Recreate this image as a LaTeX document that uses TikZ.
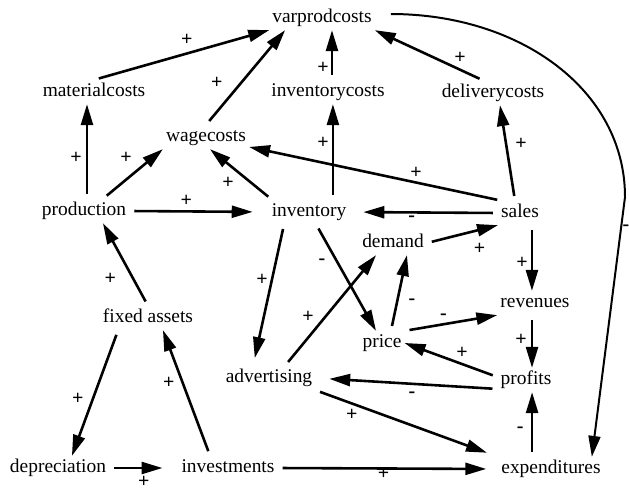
\documentclass[tikz,border=0pt]{standalone}
\usepackage{fontspec}
\setmainfont{Liberation Serif}
\usetikzlibrary{arrows.meta}

\begin{document}
\begin{tikzpicture}[x=1bp,y=-1bp,
        var/.style={inner sep=3pt, text height=14pt, text depth=4pt,
                    font=\fontsize{19.5}{22}\selectfont},
        link/.style={line width=2.6pt, shorten <=5pt,
                     -{Triangle[length=21pt,width=12pt]}},
        sign/.style={inner sep=0pt, font=\fontsize{20}{20}\selectfont\bfseries}]
                \useasboundingbox (0,0) rectangle (629,491);

                \node [var] (varprodcosts) at (322,18) {varprodcosts};
                \node [var] (materialcosts) at (94,92) {materialcosts};
                \node [var] (inventorycosts) at (328,92) {inventorycosts};
                \node [var] (deliverycosts) at (493,93) {deliverycosts};
                \node [var] (wagecosts) at (206,137) {wagecosts};
                \node [var] (production) at (84,211) {production};
                \node [var] (inventory) at (309,212) {inventory};
                \node [var] (sales) at (520,213) {sales};
                \node [var] (demand) at (393,243) {demand};
                \node [var] (revenues) at (535,303) {revenues};
                \node [var] (fixedassets) at (148,318) {fixed assets};
                \node [var] (price) at (382,343) {price};
                \node [var] (advertising) at (269,378) {advertising};
                \node [var] (profits) at (526,380) {profits};
                \node [var] (depreciation) at (58,468) {depreciation};
                \node [var] (investments) at (228,468) {investments};
                \node [var] (expenditures) at (551,469) {expenditures};
                \coordinate (bend) at (625,197);

                \draw[link] (materialcosts.north) -- node[sign, pos=.53, yshift=14] {+} (varprodcosts.south west);
                \draw[link] (wagecosts.north) -- node[sign, pos=.44, xshift=-24] {+} ([xshift=-37]varprodcosts.south);
                \draw[link] ([xshift=4]inventorycosts.north) -- node[sign, pos=.25, xshift=-9] {+}
                            ([xshift=4]inventorycosts.north |- varprodcosts.south);
                \draw[link] ([xshift=-9]deliverycosts.north) -- node[sign, pos=.22, yshift=12] {+} (varprodcosts.south east);
                \draw[link, line width=2pt] ([xshift=11,yshift=4]varprodcosts.east)
                            .. controls (520,14) and (625,90) .. (bend)
                            -- node[sign, pos=.12, xshift=5] {-} ([xshift=41]expenditures.north);

                \draw[link] ([xshift=3]production.north) -- node[sign, pos=.43, xshift=-11] {+}
                            ([xshift=3]production.north |- materialcosts.south);
                \draw[link] ([xshift=19]production.north) -- node[sign, pos=.6, xshift=-13, yshift=11] {+} (wagecosts.south west);
                \draw[link, shorten >=16pt] (production.east) -- node[sign, pos=.41, yshift=11] {+} (inventory.west);
                \draw[link] ([xshift=-37]inventory.north) -- node[sign, pos=.5, xshift=-13, yshift=-8] {+} ([xshift=4]wagecosts.south);
                \draw[link] ([xshift=24]inventory.north) -- node[sign, pos=.6, xshift=-10] {+}
                            ([xshift=24]inventory.north |- inventorycosts.south);

                \draw[link] ([xshift=-18]sales.north) -- node[sign, pos=.34, yshift=10] {+} ([yshift=-10]wagecosts.east);
                \draw[link] ([xshift=-5]sales.north) -- node[sign, pos=.6, xshift=15] {+} ([xshift=7]deliverycosts.south);
                \draw[link, shorten >=14pt] (sales.west) -- node[sign, pos=.58, yshift=-6] {-} (inventory.east);
                \draw[link] (demand.east) -- node[sign, pos=.7, xshift=3, yshift=-18] {+} (sales.south west);
                \draw[link] ([xshift=12]sales.south) -- node[sign, pos=.58, xshift=-10] {+}
                            ([xshift=12]sales.south |- revenues.north);

                \draw[link, shorten >=8pt] ([xshift=-25]inventory.south) -- node[sign, pos=.39, xshift=-10] {+} ([xshift=-16]advertising.north);
                \draw[link] ([xshift=7]inventory.south) -- node[sign, pos=.35, xshift=-15] {-} ([xshift=-6]price.north);
                \draw[link] ([xshift=16]advertising.north) -- node[sign, pos=.44, xshift=-17] {+} ([xshift=-17]demand.south);
                \draw[link] ([xshift=9]price.north) -- node[sign, pos=.38, xshift=15] {-} ([xshift=14]demand.south);
                \draw[link] (price.north east) -- node[sign, pos=.42, yshift=8] {-} (revenues.south west);
                \draw[link] ([yshift=3]profits.west) -- node[sign, pos=.38, yshift=11] {+} (price.east);
                \draw[link] ([xshift=-3]revenues.south) -- node[sign, pos=.47, xshift=-11] {+}
                            ([xshift=-3]revenues.south |- profits.north);
                \draw[link, shorten >=14pt] ([yshift=-9]profits.west) -- node[sign, pos=.47, yshift=-11] {-} (advertising.east);
                \draw[link, shorten >=12pt] (advertising.south east) -- node[sign, pos=.2, yshift=-11] {+} (expenditures.north west);
                \draw[link] ([xshift=-19]expenditures.north) -- node[sign, pos=.42, xshift=-12] {-}
                            ([xshift=-19]expenditures.north |- profits.south);

                \draw[link] (fixedassets.north) -- node[sign, pos=.33, xshift=-23] {+} ([xshift=19]production.south);
                \draw[link] ([xshift=-30]fixedassets.south) -- node[sign, pos=.55, xshift=-15] {+} ([xshift=14]depreciation.north);
                \draw[link] ([xshift=-18]investments.north) -- node[sign, pos=.58, xshift=-14] {+} ([xshift=15]fixedassets.south);
                \draw[link, shorten >=16pt] (depreciation.east) -- node[sign, pos=.5, yshift=-14] {+} (investments.west);
                \draw[link, shorten >=12pt] (investments.east) -- node[sign, pos=.48, yshift=-5] {+} (expenditures.west);
\end{tikzpicture}
\end{document}
